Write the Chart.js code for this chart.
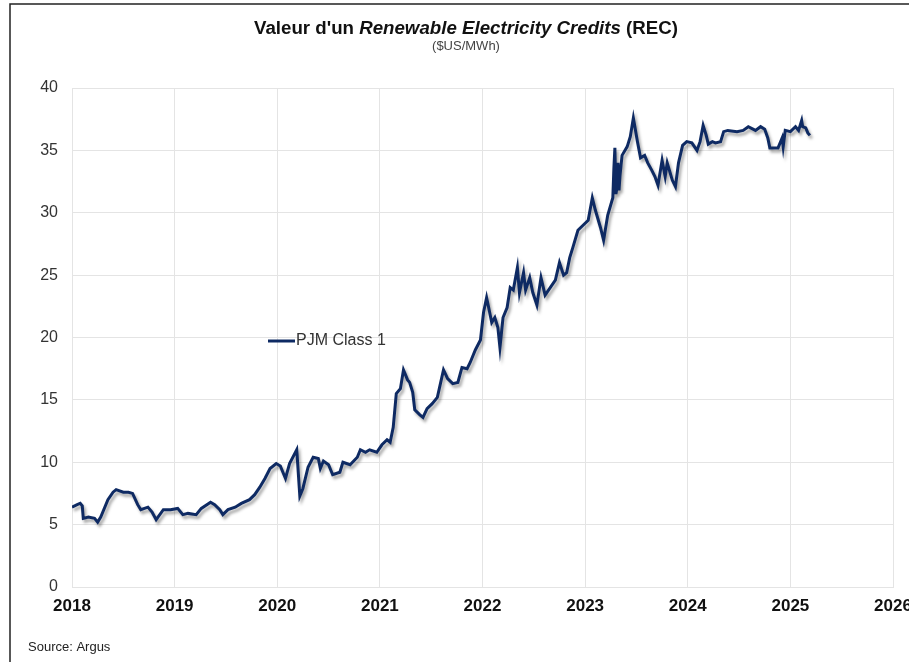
<!DOCTYPE html>
<html lang="fr">
<head>
    <meta charset="UTF-8">
    <title>Valeur d'un REC</title>
    <script src="https://cdn.jsdelivr.net/npm/chart.js"></script>
    <style>
        body {
            margin: 0;
            background: #ffffff;
        }
        canvas {
            display: block;
        }
    </style>
</head>
<body>
    <canvas id="recChart" width="909" height="662"></canvas>

    <script>
        // dates en annees decimales, valeurs en $US/MWh
        const dates = [
            2018.00, 2018.05, 2018.08, 2018.10, 2018.11, 2018.16, 2018.22, 2018.25, 2018.28, 2018.35,
            2018.40, 2018.43, 2018.50, 2018.55, 2018.59, 2018.64, 2018.67, 2018.74, 2018.78, 2018.82,
            2018.89, 2018.96, 2019.03, 2019.08, 2019.13, 2019.21, 2019.26, 2019.35, 2019.39, 2019.44,
            2019.47, 2019.52, 2019.59, 2019.65, 2019.73, 2019.78, 2019.83, 2019.88, 2019.93, 2019.99,
            2020.03, 2020.08, 2020.12, 2020.19, 2020.22, 2020.25, 2020.30, 2020.35, 2020.40, 2020.42,
            2020.45, 2020.50, 2020.54, 2020.61, 2020.64, 2020.71, 2020.78, 2020.81, 2020.86, 2020.90,
            2020.97, 2021.02, 2021.07, 2021.10, 2021.13, 2021.16, 2021.20, 2021.23, 2021.27, 2021.29,
            2021.32, 2021.34, 2021.39, 2021.42, 2021.46, 2021.51, 2021.56, 2021.59, 2021.62, 2021.66,
            2021.71, 2021.76, 2021.80, 2021.85, 2021.88, 2021.93, 2021.98, 2022.01, 2022.04, 2022.07,
            2022.09, 2022.12, 2022.15, 2022.17, 2022.20, 2022.24, 2022.27, 2022.30, 2022.34, 2022.36,
            2022.40, 2022.42, 2022.46, 2022.49, 2022.53, 2022.57, 2022.61, 2022.66, 2022.71, 2022.75,
            2022.79, 2022.82, 2022.85, 2022.88, 2022.93, 2022.98, 2023.03, 2023.07, 2023.10, 2023.15,
            2023.18, 2023.22, 2023.27, 2023.28, 2023.29, 2023.30, 2023.31, 2023.32, 2023.33, 2023.34,
            2023.36, 2023.41, 2023.44, 2023.47, 2023.51, 2023.54, 2023.58, 2023.61, 2023.65, 2023.68,
            2023.71, 2023.75, 2023.78, 2023.80, 2023.85, 2023.88, 2023.91, 2023.95, 2023.99, 2024.04,
            2024.09, 2024.12, 2024.15, 2024.18, 2024.20, 2024.24, 2024.27, 2024.32, 2024.35, 2024.39,
            2024.48, 2024.54, 2024.59, 2024.66, 2024.71, 2024.75, 2024.78, 2024.80, 2024.85, 2024.88,
            2024.92, 2024.93, 2024.95, 2025.00, 2025.05, 2025.08, 2025.11, 2025.12, 2025.15, 2025.17,
            2025.19
        ];
        const pjmClass1 = [
            6.4, 6.6, 6.7, 6.5, 5.5, 5.6, 5.5, 5.2, 5.6, 7.0,
            7.6, 7.8, 7.6, 7.6, 7.5, 6.6, 6.2, 6.4, 6.0, 5.4,
            6.2, 6.2, 6.3, 5.8, 5.9, 5.8, 6.3, 6.8, 6.6, 6.2,
            5.8, 6.2, 6.4, 6.7, 7.0, 7.4, 8.0, 8.7, 9.5, 9.9,
            9.7, 8.7, 9.9, 11.0, 7.3, 7.9, 9.6, 10.4, 10.3, 9.5,
            10.1, 9.8, 9.0, 9.2, 10.0, 9.8, 10.4, 11.0, 10.8, 11.0,
            10.8, 11.4, 11.8, 11.6, 12.8, 15.5, 15.9, 17.4, 16.6, 16.4,
            15.6, 14.2, 13.8, 13.6, 14.3, 14.7, 15.2, 16.3, 17.4, 16.7,
            16.3, 16.4, 17.6, 17.5, 18.0, 19.0, 19.8, 22.0, 23.2, 22.0,
            21.2, 21.6, 20.8, 19.2, 21.6, 22.4, 24.0, 23.8, 25.6, 23.6,
            25.2, 23.8, 24.8, 23.6, 22.6, 24.8, 23.4, 24.0, 24.6, 26.0,
            25.0, 25.2, 26.4, 27.2, 28.6, 29.0, 29.4, 31.2, 30.2, 28.8,
            27.8, 29.8, 31.2, 33.5, 35.2, 31.5, 32.0, 34.0, 31.8, 33.0,
            34.6, 35.3, 36.1, 37.6, 35.7, 34.4, 34.6, 34.0, 33.4, 32.9,
            32.2, 34.2, 32.9, 34.0, 32.6, 32.1, 34.0, 35.4, 35.7, 35.6,
            35.0, 35.7, 37.0, 36.2, 35.5, 35.7, 35.6, 35.7, 36.5, 36.6,
            36.5, 36.6, 36.9, 36.6, 36.9, 36.7, 36.0, 35.2, 35.2, 35.2,
            36.0, 35.3, 36.6, 36.5, 36.9, 36.6, 37.4, 36.9, 36.8, 36.4,
            36.2
        ];
        const yearTicks = [2018, 2019, 2020, 2021, 2022, 2023, 2024, 2025, 2026];
        const seriesName = 'PJM Class 1';

        const lineColor = '#0e2a63';
        const gridColor = '#e4e4e4';

        // cadre, titre, legende et source dessines a la main
        const decorPlugin = {
            id: 'decor',
            beforeDraw(chart) {
                const c = chart.ctx;
                c.save();
                c.fillStyle = '#ffffff';
                c.fillRect(0, 0, chart.width, chart.height);
                c.strokeStyle = '#222';
                c.lineWidth = 1.5;
                c.beginPath();
                c.moveTo(10, chart.height + 5);
                c.lineTo(10, 4);
                c.lineTo(chart.width + 5, 4);
                c.stroke();
                c.restore();
            },
            afterDraw(chart) {
                const c = chart.ctx;
                c.save();
                // titre en trois morceaux (gras / gras italique / gras)
                const parts = [
                    ['bold 18.7px "Liberation Sans", Arial', "Valeur d'un "],
                    ['italic bold 18.7px "Liberation Sans", Arial', 'Renewable Electricity Credits'],
                    ['bold 18.7px "Liberation Sans", Arial', ' (REC)']
                ];
                let total = 0;
                parts.forEach(p => { c.font = p[0]; total += c.measureText(p[1]).width; });
                let x = 466 - total / 2;
                c.fillStyle = '#111';
                c.textBaseline = 'alphabetic';
                parts.forEach(p => {
                    c.font = p[0];
                    c.fillText(p[1], x, 34);
                    x += c.measureText(p[1]).width;
                });
                c.font = '13px "Liberation Sans", Arial';
                c.fillStyle = '#444';
                c.textAlign = 'center';
                c.fillText('($US/MWh)', 466, 50);

                // legende
                c.strokeStyle = lineColor;
                c.lineWidth = 3;
                c.beginPath();
                c.moveTo(268, 341);
                c.lineTo(295, 341);
                c.stroke();
                c.font = '16px "Liberation Sans", Arial';
                c.fillStyle = '#333';
                c.textAlign = 'left';
                c.textBaseline = 'middle';
                c.fillText(seriesName, 296, 341);

                c.font = '13px "Liberation Sans", Arial';
                c.fillStyle = '#222';
                c.fillText('Source: Argus', 28, 647);
                c.restore();
            },
            beforeDatasetDraw(chart) {
                const c = chart.ctx;
                c.save();
                c.shadowColor = 'rgba(0, 0, 0, 0.35)';
                c.shadowBlur = 3;
                c.shadowOffsetX = 2;
                c.shadowOffsetY = 3;
            },
            afterDatasetDraw(chart) {
                chart.ctx.restore();
            }
        };

        const ctx = document.getElementById('recChart').getContext('2d');
        const chart = new Chart(ctx, {
            type: 'line',
            data: {
                datasets: [{
                    label: seriesName,
                    data: dates.map((d, i) => ({ x: d, y: pjmClass1[i] })),
                    borderColor: lineColor,
                    borderWidth: 3,
                    pointRadius: 0,
                    tension: 0,
                    fill: false
                }]
            },
            options: {
                responsive: false,
                animation: false,
                layout: {
                    padding: { top: 88, right: 16, left: 0, bottom: 0 }
                },
                plugins: {
                    legend: { display: false },
                    title: { display: false },
                    tooltip: { enabled: false }
                },
                scales: {
                    x: {
                        type: 'linear',
                        min: 2018,
                        max: 2026,
                        afterBuildTicks: scale => {
                            scale.ticks = yearTicks.map(v => ({ value: v }));
                        },
                        afterFit: scale => {
                            scale.height = 75;
                            // le libelle 2026 deborde a droite, comme dans l'original
                            scale.paddingLeft = 0;
                            scale.paddingRight = 0;
                        },
                        grid: { color: gridColor, drawTicks: false },
                        border: { color: gridColor },
                        ticks: {
                            padding: 9,
                            maxRotation: 0,
                            color: '#111',
                            font: { family: '"Liberation Sans", Arial', size: 17, weight: 'bold' },
                            callback: v => String(v)
                        }
                    },
                    y: {
                        min: 0,
                        max: 40,
                        afterFit: scale => {
                            scale.width = 72;
                            scale.paddingTop = 0;
                            scale.paddingBottom = 0;
                        },
                        grid: { color: gridColor, drawTicks: false },
                        border: { color: gridColor },
                        ticks: {
                            stepSize: 5,
                            padding: 14,
                            color: '#333',
                            font: { family: '"Liberation Sans", Arial', size: 16 }
                        }
                    }
                }
            },
            plugins: [decorPlugin]
        });
    </script>
</body>
</html>
